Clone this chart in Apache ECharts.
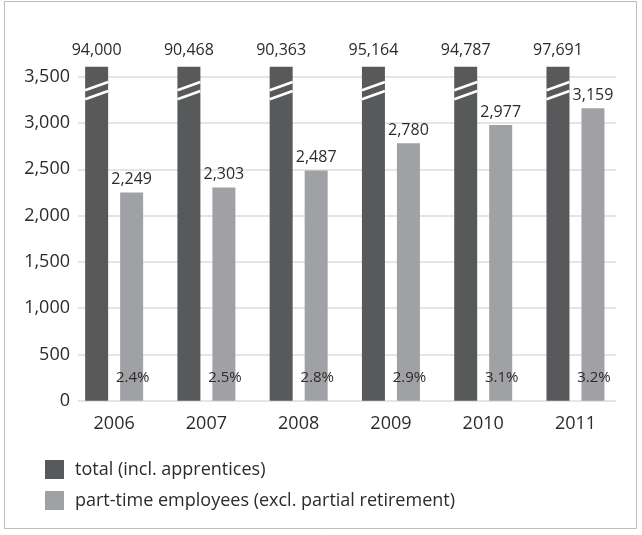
<!DOCTYPE html>
<html>
<head>
<meta charset="utf-8">
<script src="https://cdn.jsdelivr.net/npm/echarts@6/dist/echarts.min.js"></script>
<style>
html,body{margin:0;padding:0;background:#fff;}
#main{width:642px;height:535px;}
</style>
</head>
<body>
<div id="main"></div>
<script>
var years = ['2006', '2007', '2008', '2009', '2010', '2011'];
var totalEmployees = [94000, 90468, 90363, 95164, 94787, 97691];
var partTime = [2249, 2303, 2487, 2780, 2977, 3159];
var partTimeShare = [2.4, 2.5, 2.8, 2.9, 3.1, 3.2];
var yTicks = [0, 500, 1000, 1500, 2000, 2500, 3000, 3500];
var seriesNames = ['total (incl. apprentices)', 'part-time employees (excl. partial retirement)'];

var FONT = '"Open Sans", sans-serif';
var DARK = '#58595b';
var LIGHT = '#a0a1a4';
var TEXT = '#2b2b2b';
var BAR_W = 23, BAR_GAP_PX = 12;
var BREAK_AT = 3350;
var AXIS_MAX = 3608;

function fmt(v){ return Number(v).toLocaleString('en-US'); }

var chart = echarts.init(document.getElementById('main'), null, {renderer: 'canvas'});

var option = {
  animation: false,
  backgroundColor: '#fff',
  graphic: [{
    type: 'rect', silent: true, z: -10,
    shape: {x: 4.5, y: 1.5, width: 632, height: 527},
    style: {fill: 'none', stroke: '#bdbdbd', lineWidth: 1}
  }],
  legend: {
    orient: 'vertical',
    left: 40, top: 455,
    itemWidth: 19, itemHeight: 19, itemGap: 12,
    icon: 'rect',
    selectedMode: false,
    data: seriesNames,
    textStyle: {fontFamily: FONT, fontSize: 18, color: TEXT, padding: [0, 0, 0, 6]}
  },
  grid: [
    {left: 78, right: 26, top: 76.7, bottom: 134.3},
    {left: 68, right: 20.4, top: 66.7, bottom: 134.3}
  ],
  xAxis: [
    {gridIndex: 0, type: 'category', data: years, show: false},
    {gridIndex: 1, type: 'category', data: years,
      axisLine: {show: false}, axisTick: {show: false},
      axisLabel: {fontFamily: FONT, fontSize: 18, color: TEXT, margin: 14}}
  ],
  yAxis: [
    {gridIndex: 0, type: 'value', min: yTicks[0], max: yTicks[yTicks.length - 1], interval: yTicks[1] - yTicks[0],
      axisLine: {show: false}, axisTick: {show: false},
      splitLine: {show: true, lineStyle: {color: '#dcdcdc', width: 1.5}},
      axisLabel: {fontFamily: FONT, fontSize: 18, color: TEXT, margin: 8, formatter: function(v){ return fmt(v); }}},
    {gridIndex: 1, type: 'value', min: 0, max: AXIS_MAX, show: false, splitLine: {show: false}}
  ],
  series: [
    {
      name: seriesNames[0], type: 'bar', xAxisIndex: 1, yAxisIndex: 1,
      data: totalEmployees, barWidth: BAR_W, barGap: (BAR_GAP_PX / BAR_W * 100) + '%',
      itemStyle: {color: DARK},
      clip: true,
      label: {show: true, position: 'top', distance: 8, fontFamily: FONT, fontSize: 16, color: TEXT,
        formatter: function(p){ return fmt(p.value); }}
    },
    {
      name: seriesNames[1], type: 'bar', xAxisIndex: 1, yAxisIndex: 1,
      data: partTime, barWidth: BAR_W,
      itemStyle: {color: LIGHT},
      label: {show: true, position: 'top', distance: 5, fontFamily: FONT, fontSize: 16, color: TEXT,
        formatter: function(p){ return fmt(p.value); }}
    },
    {
      type: 'custom', xAxisIndex: 1, yAxisIndex: 1, silent: true, z: 5,
      data: years.map(function(y, i){ return [i, BREAK_AT]; }),
      renderItem: function(params, api){
        var c = api.coord([api.value(0), api.value(1)]);
        var cx = c[0] - (BAR_W + BAR_GAP_PX) / 2;
        var hw = BAR_W / 2;
        var rise = 4.1, sep = 4.5;
        return {type: 'group', children: [
          {type: 'line', shape: {x1: cx - hw, y1: c[1] - sep + rise, x2: cx + hw, y2: c[1] - sep - rise},
            style: {stroke: '#fff', lineWidth: 2.6}},
          {type: 'line', shape: {x1: cx - hw, y1: c[1] + sep + rise, x2: cx + hw, y2: c[1] + sep - rise},
            style: {stroke: '#fff', lineWidth: 2.6}}
        ]};
      }
    },
    {
      type: 'custom', xAxisIndex: 1, yAxisIndex: 1, silent: true, z: 6,
      data: partTimeShare.map(function(s, i){ return [i, 0, s]; }),
      renderItem: function(params, api){
        var c = api.coord([api.value(0), 0]);
        var cx = c[0] + (BAR_W + BAR_GAP_PX) / 2 + 1;
        return {type: 'text', style: {
          x: cx, y: c[1] - 22.5,
          text: api.value(2).toFixed(1) + '%',
          fill: TEXT, font: '15px ' + FONT,
          textAlign: 'center', textVerticalAlign: 'middle'
        }};
      }
    }
  ]
};
chart.setOption(option);
</script>
</body>
</html>
